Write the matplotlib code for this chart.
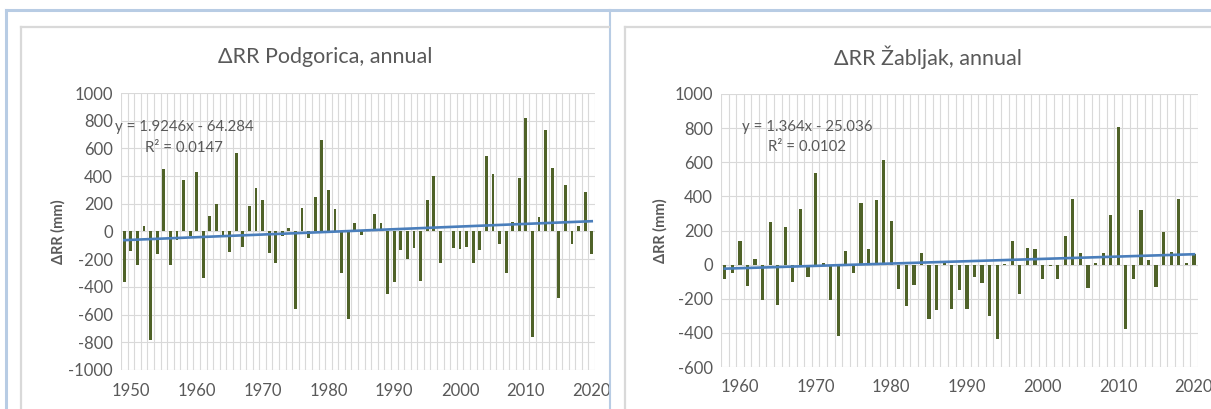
import matplotlib
matplotlib.use('Agg')
import matplotlib.pyplot as plt
from matplotlib.lines import Line2D
from matplotlib.ticker import MultipleLocator
import numpy as np

# ----------------------------------------------------------------------------------------------------------------------
pg_years = list(range(1949, 2021))
pg_vals = [-363, -142, -245, 38, -784, -166, 452, -245, -58, 375,
           -34, 430, -334, 110, 202, -22, -147, 565, -110, 183,
           312, 226, -154, -226, -29, 22, -562, 173, -48, 250,
           659, 300, 163, -298, -635, 58, -24, 19, 127, 58,
           -454, -363, -135, -197, -118, -358, 226, 404, -226, 7,
           -118, -123, -110, -226, -135, 546, 418, -87, -298, 70,
           387, 817, -760, 103, 733, 459, -483, 337, -87, 41,
           286, -161]
pg_trend = (1.9246, -64.284)

zb_years = list(range(1958, 2021))
zb_vals = [-83, -50, 140, -128, 34, -206, 249, -239, 220, -102,
           325, -73, 536, 9, -210, -417, 77, -50, 360, 93,
           376, 612, 255, -141, -245, -118, 69, -320, -265, 12,
           -258, -147, -262, -75, -109, -302, -437, 4, 141, -172,
           96, 90, -86, -10, -86, 168, 382, 66, -135, 10,
           66, 293, 804, -380, -86, 322, 27, -131, 191, 76,
           382, 10, 62]
zb_trend = (1.364, -25.036)

W, H = 1211, 409
plt.rcParams.update({
    "font.family": ["Lato", "DejaVu Sans"],
    "font.size": 12,
    "axes.unicode_minus": False,
})
TXT = '#595959'
GRID = '#d9d9d9'
BAR = '#4f6228'
TREND = '#4a7ebb'

fig = plt.figure(figsize=(W / 100, H / 100), dpi=100)


def px_rect(x0, y0, x1, y1):
    return [x0 / W, 1 - y1 / H, (x1 - x0) / W, (y1 - y0) / H]


# frame lines of the surrounding page
def fline(xs, ys, color, lw):
    fig.add_artist(Line2D([x / W for x in xs], [1 - y / H for y in ys], color=color, lw=lw,
                          transform=fig.transFigure))


fline([6, W], [10, 10], '#b8cce4', 2.2)
fline([6, 6], [10, H], '#b8cce4', 2.2)
fline([610, 610], [10, H], '#b8cce4', 1.5)
fline([21, 609], [27, 27], GRID, 1.6)
fline([21, 21], [27, H], GRID, 1.6)
fline([625, W], [27, 27], GRID, 1.6)
fline([625, 625], [27, H], GRID, 1.6)


def panel(rect, years, vals, trend, ylim, title, title_x, eq, eq_xy, r2, r2_xy, ylab_x):
    ax = fig.add_axes(px_rect(*rect))
    x = np.array(years)
    ax.bar(x, vals, width=0.42, color=BAR, zorder=3)
    idx = np.arange(1, len(years) + 1)
    ax.plot(x, trend[0] * idx + trend[1], color=TREND, lw=1.9, zorder=4)
    ax.set_xlim(years[0] - 0.5, years[-1] + 0.5)
    ax.set_ylim(*ylim)
    ax.yaxis.set_major_locator(MultipleLocator(200))
    ax.set_xticks([y for y in range(1950, 2021, 10) if y >= years[0]])
    for b in np.arange(years[0] - 0.5, years[-1] + 1.0, 1.0):
        ax.axvline(b, color=GRID, lw=0.8, zorder=1)
    ax.grid(axis='y', color=GRID, lw=0.8, zorder=1)
    ax.set_axisbelow(True)
    for s in ax.spines.values():
        s.set_visible(False)
    ax.tick_params(length=0, colors=TXT, labelsize=12)
    ax.tick_params(axis='x', pad=9)
    ax.tick_params(axis='y', pad=6)
    fig.text(title_x / W, 1 - 57 / H, title, ha='center', va='center', fontsize=15.5, color=TXT)
    fig.text(ylab_x / W, 1 - (rect[1] + rect[3]) / 2 / H, 'ΔRR (mm)', rotation=90, ha='center',
             va='center', fontsize=10.5, fontweight='bold', color=TXT)
    fig.text(eq_xy[0] / W, 1 - eq_xy[1] / H, eq, ha='left', va='center', fontsize=10.8, color=TXT)
    fig.text(r2_xy[0] / W, 1 - r2_xy[1] / H, r2, ha='left', va='center', fontsize=10.8, color=TXT)
    return ax


panel((121, 93, 595, 370), pg_years, pg_vals, pg_trend, (-1000, 1000),
      'ΔRR Podgorica, annual', 325, 'y = 1.9246x - 64.284', (115, 127),
      'R² = 0.0147', (145, 148), 58)
panel((721, 94, 1197.7, 367), zb_years, zb_vals, zb_trend, (-600, 1000),
      'ΔRR Žabljak, annual', 928, 'y = 1.364x - 25.036', (742, 127),
      'R² = 0.0102', (768, 147), 660)

fig.savefig('out.png', dpi=100)
